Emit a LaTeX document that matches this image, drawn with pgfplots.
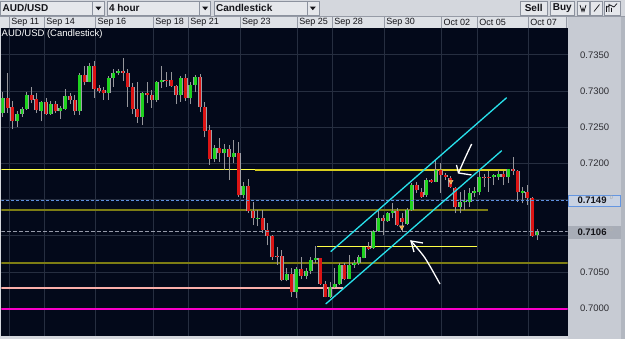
\documentclass[border=0pt]{standalone}
\usepackage{fontspec}
\setmainfont{Liberation Sans}
\usepackage{pgfplots}
\pgfplotsset{compat=1.18}
\usepackage{pgfplotstable}

\definecolor{chartbg}{RGB}{3,9,26}
\definecolor{gridc}{RGB}{38,46,64}
\definecolor{uibar}{RGB}{212,215,221}
\definecolor{daterow}{RGB}{222,225,230}
\definecolor{sepc}{RGB}{150,155,166}
\definecolor{panel}{RGB}{199,203,211}
\definecolor{panel2}{RGB}{178,183,192}
\definecolor{boxc}{RGB}{229,231,235}
\definecolor{boxb}{RGB}{140,146,158}
\definecolor{txt}{RGB}{20,20,25}
\definecolor{lbl}{RGB}{45,45,50}
\definecolor{wick}{RGB}{150,150,155}
\definecolor{outl}{RGB}{160,160,168}
\definecolor{cred}{RGB}{220,20,20}
\definecolor{cgreen}{RGB}{30,210,30}
\definecolor{ylw}{RGB}{255,255,70}
\definecolor{ylw2}{RGB}{215,205,30}
\definecolor{oliveL}{RGB}{125,125,20}
\definecolor{pinkl}{RGB}{250,175,170}
\definecolor{magl}{RGB}{250,0,200}
\definecolor{blued}{RGB}{95,145,225}
\definecolor{grayd}{RGB}{150,155,170}
\definecolor{cyanl}{RGB}{40,225,235}
\definecolor{orangem}{RGB}{240,160,50}
\definecolor{box1}{RGB}{200,210,226}
\definecolor{box1b}{RGB}{100,150,225}
\definecolor{box2}{RGB}{168,173,183}

\pgfplotstableread{
i o h l c
1 0.7270 0.7299 0.7264 0.7291
4 0.7258 0.7273 0.7251 0.7269
5 0.7269 0.7278 0.7264 0.7275
6 0.7275 0.7299 0.7274 0.7294
9 0.7273 0.7286 0.7258 0.7285
11 0.7269 0.7286 0.7267 0.7282
13 0.7272 0.7279 0.7262 0.7276
14 0.7275 0.7303 0.7274 0.7293
17 0.7272 0.7325 0.7267 0.7322
19 0.7313 0.7339 0.7312 0.7334
23 0.7297 0.7321 0.7288 0.7318
24 0.7318 0.7331 0.7306 0.7325
25 0.7325 0.7331 0.7322 0.7328
30 0.7264 0.7299 0.7253 0.7297
33 0.7288 0.7314 0.7285 0.7312
34 0.7312 0.7334 0.7304 0.7315
38 0.7294 0.7321 0.7285 0.7318
40 0.7290 0.7312 0.7282 0.7309
41 0.7309 0.7322 0.7299 0.7319
45 0.7206 0.7226 0.7202 0.7222
47 0.7214 0.7227 0.7191 0.7220
49 0.7209 0.7233 0.7200 0.7214
51 0.7156 0.7175 0.7152 0.7169
54 0.7124 0.7136 0.7113 0.7125
60 0.7039 0.7055 0.7037 0.7047
62 0.7022 0.7057 0.7014 0.7054
64 0.7045 0.7055 0.7041 0.7052
65 0.7052 0.7071 0.7048 0.7067
66 0.7067 0.7086 0.7062 0.7069
69 0.7016 0.7036 0.7014 0.7029
70 0.7029 0.7055 0.7028 0.7033
71 0.7033 0.7062 0.7032 0.7060
73 0.7041 0.7074 0.7040 0.7060
74 0.7060 0.7067 0.7056 0.7063
75 0.7062 0.7074 0.7060 0.7071
76 0.7070 0.7085 0.7069 0.7084
78 0.7083 0.7108 0.7082 0.7107
79 0.7107 0.7136 0.7106 0.7124
81 0.7120 0.7133 0.7119 0.7132
82 0.7131 0.7145 0.7125 0.7135
85 0.7117 0.7138 0.7115 0.7136
86 0.7136 0.7173 0.7135 0.7170
89 0.7157 0.7180 0.7154 0.7177
91 0.7175 0.7205 0.7174 0.7191
96 0.7140 0.7161 0.7131 0.7147
97 0.7147 0.7163 0.7136 0.7148
98 0.7147 0.7166 0.7140 0.7159
99 0.7159 0.7168 0.7154 0.7162
100 0.7161 0.7189 0.7157 0.7182
103 0.7182 0.7186 0.7170 0.7184
104 0.7181 0.7191 0.7177 0.7185
106 0.7181 0.7193 0.7173 0.7192
109 0.7159 0.7168 0.7145 0.7162
112 0.7101 0.7109 0.7094 0.7106
}\candlesup

\pgfplotstableread{
i o h l c
2 0.7291 0.7325 0.7270 0.7277
3 0.7278 0.7286 0.7247 0.7258
7 0.7294 0.7306 0.7283 0.7288
8 0.7289 0.7297 0.7270 0.7274
10 0.7285 0.7291 0.7267 0.7269
12 0.7282 0.7286 0.7270 0.7272
15 0.7293 0.7297 0.7282 0.7288
16 0.7288 0.7295 0.7267 0.7272
18 0.7322 0.7335 0.7308 0.7313
20 0.7334 0.7342 0.7291 0.7303
21 0.7304 0.7309 0.7297 0.7300
22 0.7301 0.7306 0.7288 0.7297
26 0.7328 0.7345 0.7314 0.7325
27 0.7325 0.7331 0.7278 0.7305
28 0.7306 0.7311 0.7268 0.7275
29 0.7275 0.7313 0.7256 0.7264
31 0.7297 0.7312 0.7283 0.7294
32 0.7294 0.7301 0.7277 0.7288
35 0.7315 0.7326 0.7306 0.7314
36 0.7315 0.7326 0.7306 0.7307
37 0.7307 0.7309 0.7282 0.7294
39 0.7318 0.7323 0.7286 0.7290
42 0.7319 0.7323 0.7271 0.7278
43 0.7278 0.7285 0.7236 0.7245
44 0.7246 0.7253 0.7198 0.7206
46 0.7222 0.7235 0.7202 0.7214
48 0.7220 0.7226 0.7177 0.7209
50 0.7214 0.7229 0.7154 0.7156
52 0.7169 0.7178 0.7132 0.7134
53 0.7134 0.7147 0.7115 0.7124
55 0.7124 0.7136 0.7104 0.7108
56 0.7108 0.7118 0.7087 0.7100
57 0.7100 0.7101 0.7067 0.7071
58 0.7072 0.7085 0.7060 0.7071
59 0.7072 0.7081 0.7037 0.7039
61 0.7047 0.7055 0.7016 0.7022
63 0.7054 0.7071 0.7040 0.7045
67 0.7069 0.7070 0.7032 0.7034
68 0.7034 0.7037 0.7015 0.7016
72 0.7060 0.7062 0.7039 0.7041
77 0.7085 0.7091 0.7081 0.7082
80 0.7124 0.7129 0.7101 0.7120
83 0.7134 0.7139 0.7113 0.7115
84 0.7124 0.7131 0.7106 0.7119
87 0.7170 0.7175 0.7159 0.7163
88 0.7161 0.7166 0.7152 0.7154
90 0.7177 0.7179 0.7173 0.7175
92 0.7191 0.7201 0.7159 0.7184
93 0.7184 0.7187 0.7177 0.7182
94 0.7180 0.7183 0.7166 0.7168
95 0.7166 0.7168 0.7131 0.7140
101 0.7182 0.7186 0.7168 0.7181
102 0.7182 0.7189 0.7161 0.7181
105 0.7185 0.7189 0.7170 0.7181
107 0.7192 0.7209 0.7184 0.7190
108 0.7190 0.7191 0.7147 0.7160
110 0.7161 0.7170 0.7143 0.7152
111 0.7152 0.7154 0.7099 0.7100
}\candlesdown

\pgfplotsset{
  cbar/.style n args={2}{forget plot, draw=none, mark=none,
    error bars/.cd, y dir=plus, y explicit, error mark=none,
    error bar style={draw=#1, line width=#2, line cap=butt}},
}

\begin{document}
\begin{tikzpicture}[x=1pt,y=1pt]
\useasboundingbox (0,0) rectangle (625,339);
% UI background
\fill[uibar] (0,0) rectangle (625,339);
\fill[panel] (567.7,0) rectangle (621,322.3);
\fill[panel2] (621,0) rectangle (625,322.3);
\fill[daterow] (0,310.7) rectangle (566.7,322.3);
\draw[sepc, line width=0.6pt] (0,322.3) -- (625,322.3);
\foreach \xs in {9.3,44.3,95.7,153.3,188.3,240,297.3,332.3,384.3,441.7,477.3,528.3,566.7}
  \draw[sepc, line width=0.7pt] (\xs,310.7) -- (\xs,322.3);
\foreach \xs/\lab in {9.3/Sep 11,44.3/Sep 14,95.7/Sep 16,153.3/Sep 18,188.3/Sep 21,240/Sep 23,297.3/Sep 25,332.3/Sep 28,384.3/Sep 30,441.7/Oct 02,477.3/Oct 05,528.3/Oct 07}
  \node[anchor=west, inner sep=0pt, text=txt, font=\fontsize{9}{10}\selectfont] at (\xs+1.8,316.3) {\lab};
% toolbar boxes
\foreach \a/\b/\c/\lab in {0.5/104.4/92.5/AUD\slash USD, 106.8/210.4/199.3/4 hour, 214/318.8/306.9/Candlestick}{
  \draw[boxb, fill=boxc, line width=0.6pt] (\a,324) rectangle (\b,337.5);
  \draw[boxb, line width=0.6pt] (\c,324) -- (\c,337.5);
  \fill[txt] (\c+2.9,332.4) -- (\c+8.9,332.4) -- (\c+5.9,328.8) -- cycle;
  \node[anchor=west, inner sep=0pt, text=txt, font=\bfseries\fontsize{10}{11}\selectfont] at (\a+2,330.7) {\lab};
}
\draw[boxb, fill=boxc, line width=0.6pt] (520.1,324) rectangle (547.2,337.5);
\node[inner sep=0pt, text=txt, font=\bfseries\fontsize{10}{11}\selectfont] at (533.7,330.7) {Sell};
\draw[boxb, fill=boxc, line width=0.6pt] (550,324) rectangle (574.7,337.5);
\node[inner sep=0pt, text=txt, font=\bfseries\fontsize{10}{11}\selectfont] at (562.3,330.7) {Buy};
\draw[boxb, fill=boxc, line width=0.6pt] (577,324) rectangle (589,337.5);
\draw[boxb, fill=boxc, line width=0.6pt] (590.7,324) rectangle (602.6,337.5);
\draw[boxb, fill=boxc, line width=0.6pt] (603.8,324) rectangle (619.8,337.5);
\draw[txt, line width=0.7pt] (580,334) -- (582,327.5) -- (583,331) -- (584,327.5) -- (586,334);
\draw[txt, line width=0.7pt] (594,327.5) -- (599.5,334.5);
\draw[txt, line width=0.7pt] (606.5,327) -- (606.5,333) (609,327) -- (609,335) (611.5,327) -- (611.5,331) (606,331) -- (610,334) -- (614,332) -- (617,335.5);

\begin{axis}[
  at={(1.3pt,3.3pt)}, anchor=south west,
  scale only axis, width=566.4pt, height=307.4pt,
  xmin=0.709, xmax=118.37, ymin=0.696213, ymax=0.73867,
  axis background/.style={fill=chartbg},
  axis line style={draw=none},
  xtick={2.37,9.64,20.32,32.28,39.55,50.29,62.2,69.47,80.27,92.19,99.59,110.18},
  xticklabels={},
  ytick={0.700,0.705,0.710,0.715,0.720,0.725,0.730,0.735},
  yticklabels={0.7000,0.7050,,,0.7200,0.7250,0.7300,0.7350},
  yticklabel pos=right,
  y tick label style={font=\fontsize{9.5}{10}\selectfont, text=lbl, anchor=west, inner sep=0pt, xshift=12.3pt},
  major tick length=0pt,
  grid=major, grid style={gridc, line width=0.9pt},
]
% level lines
\addplot[ylw, line width=1.3pt, forget plot] coordinates {(0.709,0.7192) (53.41,0.7192)};
\addplot[ylw2, line width=1.3pt, forget plot] coordinates {(53.41,0.7191) (106.38,0.7191)};
\addplot[oliveL, line width=1.8pt, forget plot] coordinates {(0.709,0.71358) (101.8,0.71358)};
\addplot[oliveL, line width=1.8pt, forget plot] coordinates {(0.709,0.7063) (118.37,0.7063)};
\addplot[pinkl, line width=1.8pt, forget plot] coordinates {(0.709,0.70285) (71.7,0.70285)};
\addplot[magl, line width=1.8pt, forget plot] coordinates {(0.709,0.69995) (118.37,0.69995)};
\addplot[ylw, line width=1.3pt, forget plot] coordinates {(66.3,0.70856) (99.5,0.70856)};
% wicks
\addplot[cbar={wick}{0.9pt}] table[x=i, y=l, y error expr=\thisrow{h}-\thisrow{l}] {\candlesup};
\addplot[cbar={wick}{0.9pt}] table[x=i, y=l, y error expr=\thisrow{h}-\thisrow{l}] {\candlesdown};
% body outlines
\addplot[cbar={outl}{4.0pt}] table[x=i, y=o, y error expr=\thisrow{c}-\thisrow{o}] {\candlesup};
\addplot[cbar={outl}{4.0pt}] table[x=i, y=c, y error expr=\thisrow{o}-\thisrow{c}] {\candlesdown};
% bodies
\addplot[cbar={cgreen}{2.8pt}] table[x=i, y=o, y error expr=\thisrow{c}-\thisrow{o}] {\candlesup};
\addplot[cbar={cred}{2.8pt}] table[x=i, y=c, y error expr=\thisrow{o}-\thisrow{c}] {\candlesdown};
% dashed price lines
\addplot[blued, line width=1pt, dash pattern=on 3pt off 2pt, forget plot] coordinates {(0.709,0.7149) (118.37,0.7149)};
\addplot[grayd, line width=1.6pt, dash pattern=on 4pt off 2pt, forget plot] coordinates {(0.709,0.7106) (118.37,0.7106)};
% channel
\addplot[cyanl, line width=1.3pt, forget plot] coordinates {(68.1,0.70059) (104.66,0.72177)};
\addplot[cyanl, line width=1.3pt, forget plot] coordinates {(69.13,0.70782) (105.69,0.72909)};
% markers
\addplot[only marks, mark=triangle*, mark size=2.6pt, mark options={rotate=180, fill=orangem, draw=orangem!50!white, line width=0.4pt}, forget plot] coordinates {(83.9,0.7112) (94.1,0.7175)};
% hand-drawn arrows
\addplot[white, line width=1.3pt, smooth, forget plot] coordinates {(98.42,0.72269) (97.24,0.72103) (95.68,0.71869)};
\addplot[white, line width=1.3pt, forget plot] coordinates {(95.27,0.71979) (95.68,0.71869) (98.38,0.71841)};
\addplot[white, line width=1.3pt, smooth, forget plot] coordinates {(85.82,0.70929) (88.72,0.70695) (91.84,0.70335)};
\addplot[white, line width=1.3pt, forget plot] coordinates {(88.30,0.70902) (85.82,0.70929) (86.44,0.70777)};
\end{axis}
% chart label
\node[anchor=west, inner sep=0pt, text=white, font=\fontsize{9.5}{10}\selectfont] at (1.5,305.3) {AUD/USD (Candlestick)};
% price boxes
\draw[box1b, fill=box1, line width=0.8pt] (568.3,132.7) rectangle (620.5,144);
\node[anchor=west, inner sep=0pt, text=txt, font=\bfseries\fontsize{9.5}{10}\selectfont] at (577.3,138.3) {0.7149};
\node[inner sep=0pt, text=gray!70, font=\fontsize{5.5}{6}\selectfont] at (611.3,141) {0};
\fill[box2] (567.7,100.3) rectangle (621,113);
\node[anchor=west, inner sep=0pt, text=txt, font=\bfseries\fontsize{9.5}{10}\selectfont] at (577.3,106.6) {0.7106};
\node[inner sep=0pt, text=gray!60, font=\fontsize{5.5}{6}\selectfont] at (611.3,109.3) {0};
\end{tikzpicture}
\end{document}
